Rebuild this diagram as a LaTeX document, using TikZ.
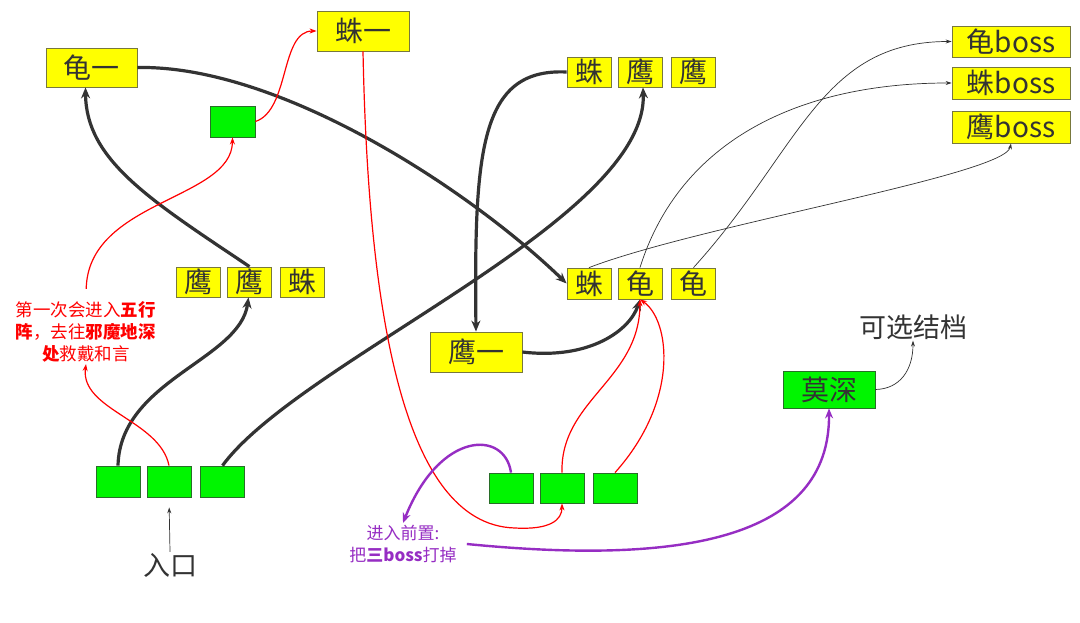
\documentclass[tikz,border=0pt]{standalone}
\usepackage{fontspec}
\setmainfont{Noto Sans CJK SC}
\usetikzlibrary{arrows.meta}
\definecolor{yel}{RGB}{255,255,0}
\definecolor{yelb}{RGB}{120,120,60}
\definecolor{grn}{RGB}{0,245,0}
\definecolor{grnb}{RGB}{40,110,40}
\definecolor{dk}{RGB}{51,51,51}
\definecolor{redl}{RGB}{255,0,0}
\definecolor{pur}{RGB}{150,45,195}
\begin{document}
\begin{tikzpicture}[x=1pt,y=-1pt,
  ybox/.style={draw=yelb, fill=yel, line width=0.8pt, inner sep=0pt, text=dk, font=\fontsize{28}{30}\selectfont},
  cell/.style={ybox, minimum width=44pt, minimum height=30pt},
  bigbox/.style={ybox, minimum width=92pt, minimum height=40pt},
  bossbox/.style={ybox, minimum width=118pt, minimum height=32pt},
  gbox/.style={draw=grnb, fill=grn, line width=0.8pt, inner sep=0pt, text=dk, minimum width=44pt, minimum height=31pt, font=\fontsize{28}{30}\selectfont},
  thk/.style={draw=dk, line width=3.2pt, -{Stealth[length=11pt,width=9pt]}},
  thn/.style={draw=dk, line width=0.7pt, -{Stealth[length=6pt,width=4pt]}},
  rline/.style={draw=redl, line width=1.2pt, -{Stealth[length=7pt,width=5pt]}},
  pline/.style={draw=pur, line width=2.4pt, -{Stealth[length=10pt,width=8pt]}},
  lbl/.style={text=dk, inner sep=1pt, font=\fontsize{27}{30}\selectfont}
]
\useasboundingbox (0,0) rectangle (1080,623);
\fill[white] (0,0) rectangle (1080,623);

% yellow nodes
\node[bigbox, minimum width=91pt, minimum height=39pt] (guiyi) at (91.5,67.5) {龟一};
\node[bigbox] (zhuyi) at (363,31) {蛛一};
\node[bigbox] (yingyi) at (476,352) {鹰一};

\node[cell] (l1) at (198.5,282) {鹰};
\node[cell] (l2) at (249.5,282) {鹰};
\node[cell] (l3) at (302,282) {蛛};

\node[cell] (t1) at (589,72) {蛛};
\node[cell] (t2) at (640,72) {鹰};
\node[cell] (t3) at (693.5,72) {鹰};

\node[cell, minimum height=31pt] (m1) at (589,283.5) {蛛};
\node[cell, minimum height=31pt] (m2) at (640,283.5) {龟};
\node[cell, minimum height=31pt] (m3) at (693.5,283.5) {龟};

\node[bossbox, minimum height=31pt] (b1) at (1011,41.5) {龟boss};
\node[bossbox] (b2) at (1011,83) {蛛boss};
\node[bossbox] (b3) at (1011,127) {鹰boss};

% green nodes
\node[gbox, minimum width=45pt] (gs) at (232.5,121.5) {};
\node[gbox] (g1) at (118,481.5) {};
\node[gbox] (g2) at (169,481.5) {};
\node[gbox] (g3) at (222.5,481.5) {};
\node[gbox, minimum height=30pt] (h1) at (511,488) {};
\node[gbox, minimum height=30pt] (h2) at (562,488) {};
\node[gbox, minimum height=30pt] (h3) at (615,488) {};
\node[gbox, minimum width=92pt, minimum height=37pt] (moshen) at (829,389.5) {莫深};

% labels
\node[lbl] (rukou) at (170,565) {入口};
\node[lbl] (kexuan) at (913,327) {可选结档};
\node[text=redl, align=center, inner sep=2pt, font=\fontsize{17.5}{22}\selectfont] (rtext) at (86,331.5)
  {第一次会进入\textbf{五行}\\\textbf{阵}，去往\textbf{邪魔地深}\\\textbf{处}救戴和言};
\node[text=pur, align=center, inner sep=2pt, font=\fontsize{17}{22}\selectfont] (ptext) at (403,544)
  {进入前置:\\把\textbf{三boss}打掉};

% thick dark arrows
\draw[thk] (guiyi.east) .. controls (280,65) and (470,190) .. (m1.west);
\draw[thk] (l2.north) .. controls (150,200) and (86,160) .. ([xshift=-6pt]guiyi.south);
\draw[thk] (g1.north) .. controls (120,380) and (240,360) .. ([xshift=-1pt]l2.south);
\draw[thk] (g3.north) .. controls (300,360) and (648,220) .. ([xshift=3pt]t2.south);
\draw[thk] (t1.west) .. controls (480,68) and (474,150) .. (yingyi.north);
\draw[thk] (yingyi.east) .. controls (590,360) and (630,330) .. (m2.south);

% thin dark arrows
\draw[thn] (m1.north) .. controls (700,225) and (1005,175) .. (b3.south);
\draw[thn] (m2.north) .. controls (680,140) and (800,83) .. (b2.west);
\draw[thn] (m3.north) .. controls (800,150) and (820,41.5) .. (b1.west);
\draw[thn] (moshen.east) .. controls (900,389) and (913,370) .. (kexuan.south);
\draw[thn, shorten >=10pt] (rukou.north) -- (g2.south);

% red arrows
\draw[rline] (gs.east) .. controls (290,110) and (280,31) .. (zhuyi.west);
\draw[rline, shorten <=10pt] (rtext.north) .. controls (88,200) and (232,200) .. (gs.south);
\draw[rline] (g2.north) .. controls (160,420) and (80,410) .. (rtext.south);
\draw[rline] (zhuyi.south) .. controls (368,300) and (400,525) .. (515,528) .. controls (550,530) and (562,520) .. (h2.south);
\draw[rline] (h2.north) .. controls (560,400) and (640,380) .. (m2.south);
\draw[rline] (h3.north) .. controls (680,400) and (670,320) .. (m2.south);

% purple arrows
\draw[pline] (h1.north) .. controls (505,430) and (440,430) .. (ptext.north);
\draw[pline] ([xshift=8pt]ptext.east) .. controls (680,565) and (830,540) .. (moshen.south);
\end{tikzpicture}
\end{document}
